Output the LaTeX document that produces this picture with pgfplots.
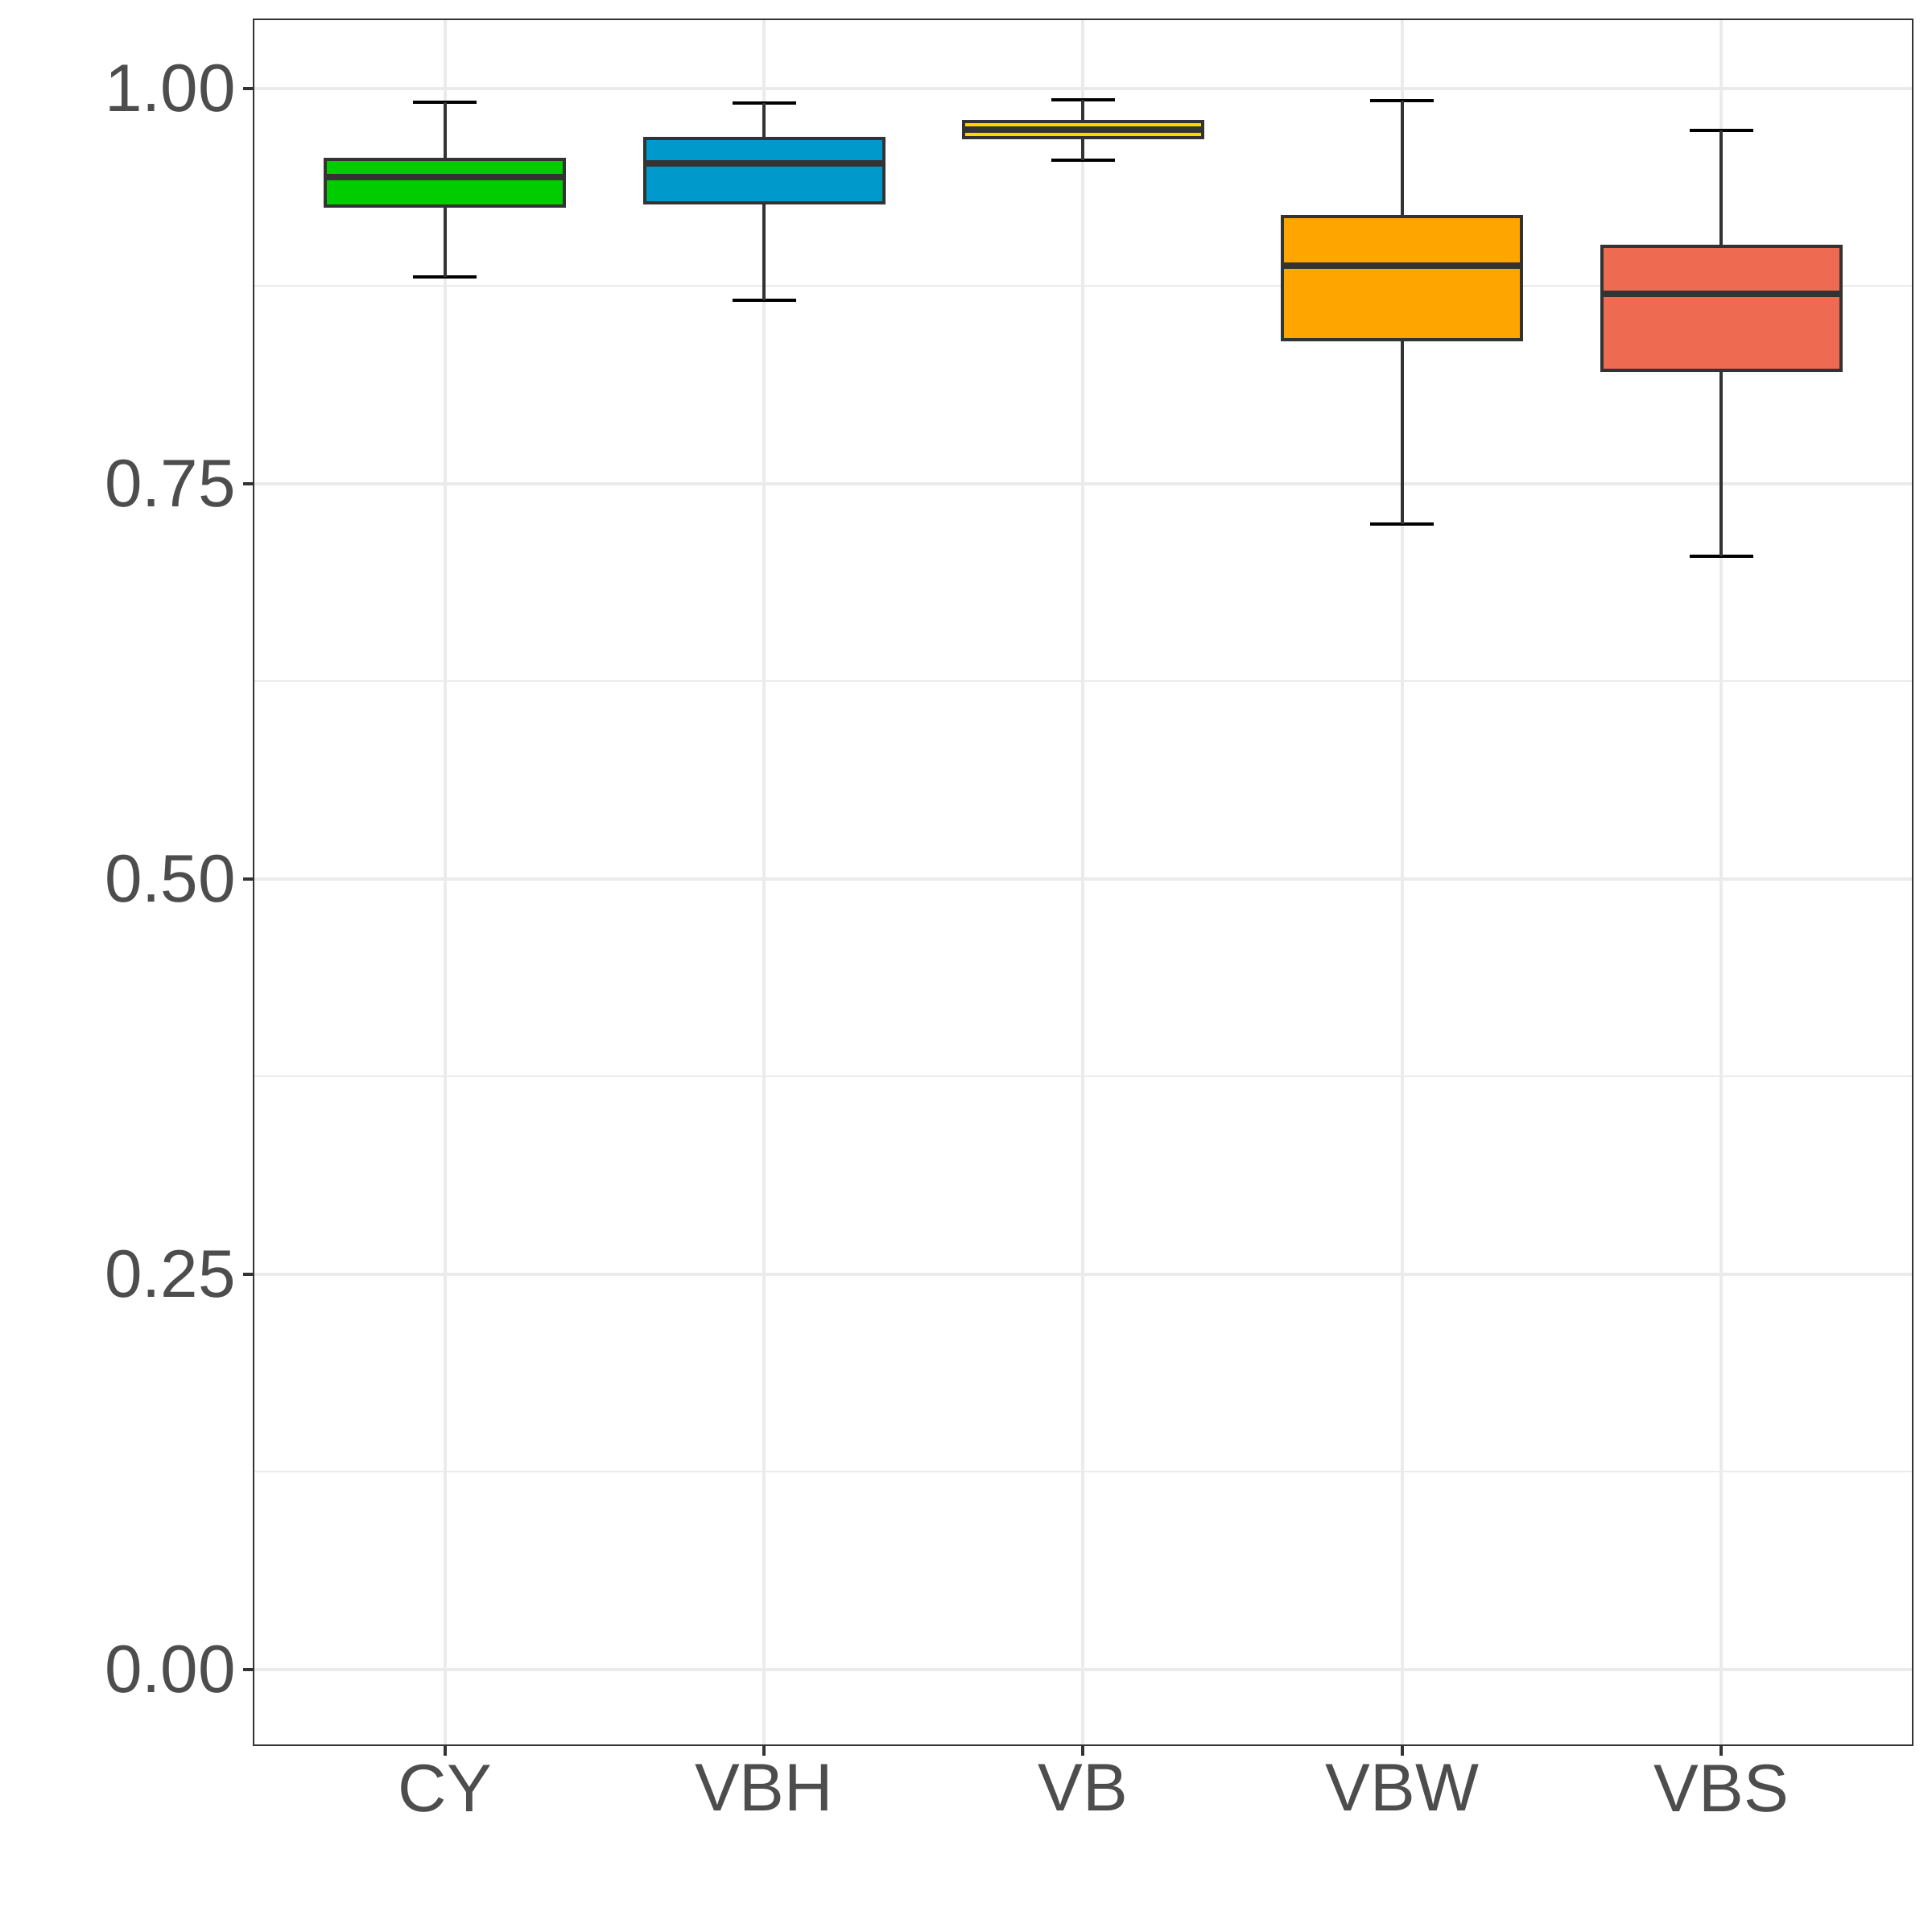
\documentclass[border=0pt]{standalone}
\usepackage{pgfplots}
\pgfplotsset{compat=1.18}
\usepgfplotslibrary{statistics}
\usepackage{fontspec}
\setmainfont{Liberation Sans}
\definecolor{cdark}{HTML}{333333}
\definecolor{ctext}{HTML}{4D4D4D}
\definecolor{cgrid}{HTML}{EBEBEB}
\definecolor{cCY}{HTML}{00CC00}
\definecolor{cVBH}{HTML}{0099CC}
\definecolor{cVB}{HTML}{FFD700}
\definecolor{cVBW}{HTML}{FFA500}
\definecolor{cVBS}{HTML}{EE6A50}
\begin{document}
\begin{tikzpicture}
\begin{axis}[
  at={(0,0)}, anchor=south west,
  width=103.05mm, height=107.2mm, scale only axis,
  xmin=-0.6, xmax=4.6, ymin=-0.048, ymax=1.0438,
  xtick={0,1,2,3,4}, xticklabels={CY,VBH,VB,VBW,VBS},
  ytick={0,0.25,0.5,0.75,1},
  minor ytick={0.125,0.375,0.625,0.875},
  minor tick length=0pt,
  major tick length=0.635mm,
  tick align=outside, tick pos=left,
  xmajorgrids, ymajorgrids, yminorgrids,
  major grid style={draw=cgrid, line width=0.57pt},
  minor grid style={draw=cgrid, line width=0.28pt},
  axis line style={draw=cdark, line width=0.38pt},
  tick style={draw=cdark, line width=0.57pt},
  ticklabel style={text=ctext, font=\fontsize{11.9}{14}\selectfont, inner sep=0pt},
  /pgf/number format/assume math mode=true,
  yticklabel style={/pgf/number format/fixed, /pgf/number format/fixed zerofill, /pgf/number format/precision=2},
  yticklabel shift=0.4mm,
  xticklabel shift=0.5mm,
  boxplot/draw direction=y,
  boxplot/box extend=0.75,
  boxplot/whisker extend=0.2,
  boxplot/every box/.style={draw=cdark, line width=0.57pt},
  boxplot/every median/.style={draw=cdark, line width=1.13pt},
  boxplot/draw/lower whisker/.code={%
    \draw[black, line width=0.57pt]
      (boxplot whisker cs:\pgfplotsboxplotvalue{lower whisker},0)
      -- (boxplot whisker cs:\pgfplotsboxplotvalue{lower whisker},1);
    \draw[cdark, line width=0.57pt]
      (boxplot box cs:\pgfplotsboxplotvalue{lower whisker},0.5)
      -- (boxplot box cs:\pgfplotsboxplotvalue{lower quartile},0.5);
  },
  boxplot/draw/upper whisker/.code={%
    \draw[black, line width=0.57pt]
      (boxplot whisker cs:\pgfplotsboxplotvalue{upper whisker},0)
      -- (boxplot whisker cs:\pgfplotsboxplotvalue{upper whisker},1);
    \draw[cdark, line width=0.57pt]
      (boxplot box cs:\pgfplotsboxplotvalue{upper whisker},0.5)
      -- (boxplot box cs:\pgfplotsboxplotvalue{upper quartile},0.5);
  },
]
\addplot[boxplot prepared={lower whisker=0.8806, lower quartile=0.9258, median=0.9442, upper quartile=0.9554, upper whisker=0.9913, draw position=0}, draw=cdark, fill=cCY] coordinates {};
\addplot[boxplot prepared={lower whisker=0.8662, lower quartile=0.9277, median=0.9525, upper quartile=0.9684, upper whisker=0.9907, draw position=1}, draw=cdark, fill=cVBH] coordinates {};
\addplot[boxplot prepared={lower whisker=0.9549, lower quartile=0.9690, median=0.9740, upper quartile=0.9791, upper whisker=0.9927, draw position=2}, draw=cdark, fill=cVB] coordinates {};
\addplot[boxplot prepared={lower whisker=0.7245, lower quartile=0.8410, median=0.8881, upper quartile=0.9189, upper whisker=0.9925, draw position=3}, draw=cdark, fill=cVBW] coordinates {};
\addplot[boxplot prepared={lower whisker=0.7041, lower quartile=0.8217, median=0.8700, upper quartile=0.9004, upper whisker=0.9736, draw position=4}, draw=cdark, fill=cVBS] coordinates {};
\end{axis}
\pgfresetboundingbox
\path[use as bounding box] (-15.75mm,-11.6mm) rectangle (104.25mm,108.4mm);
\end{tikzpicture}
\end{document}
